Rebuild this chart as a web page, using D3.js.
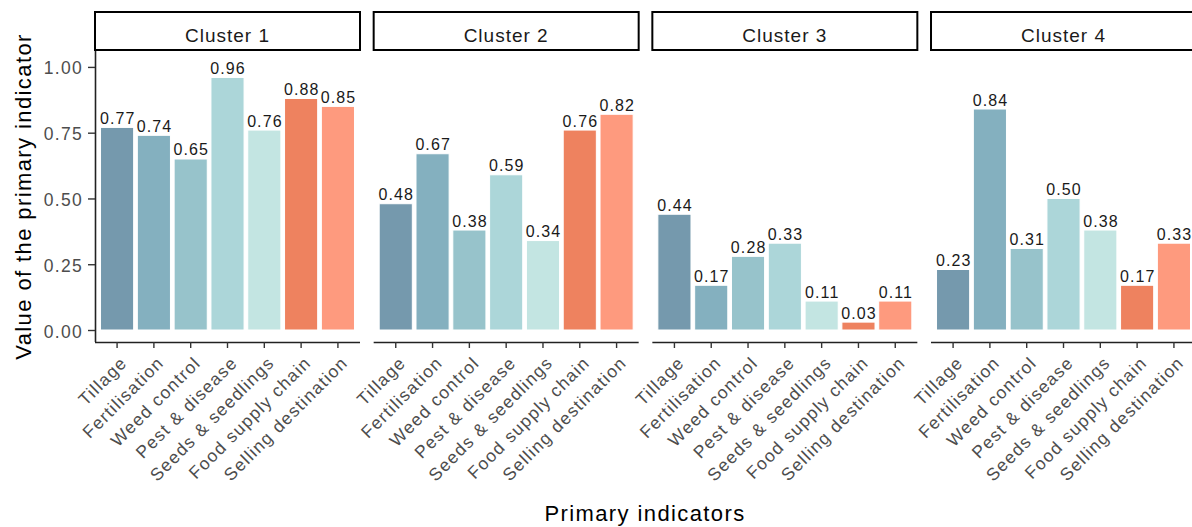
<!DOCTYPE html>
<html>
<head>
<meta charset="utf-8">
<script src="https://cdn.jsdelivr.net/npm/d3@7"></script>
<style>
  html, body { margin: 0; padding: 0; background: #fff; }
  svg { display: block; font-family: "Liberation Sans", Arial, sans-serif; }
</style>
</head>
<body>
<svg id="chart" width="1192" height="527"></svg>
<script>
// ---- data ----
const clusters = ["Cluster 1", "Cluster 2", "Cluster 3", "Cluster 4"];
const indicators = ["Tillage", "Fertilisation", "Weed control", "Pest & disease",
                    "Seeds & seedlings", "Food supply chain", "Selling destination"];
const cluster1 = [0.77, 0.74, 0.65, 0.96, 0.76, 0.88, 0.85];
const cluster2 = [0.48, 0.67, 0.38, 0.59, 0.34, 0.76, 0.82];
const cluster3 = [0.44, 0.17, 0.28, 0.33, 0.11, 0.03, 0.11];
const cluster4 = [0.23, 0.84, 0.31, 0.50, 0.38, 0.17, 0.33];
const yTicks = [0, 0.25, 0.5, 0.75, 1.0];
const colors = ["#7599ad", "#84b0bf", "#97c3cb", "#acd6d9", "#c3e5e2", "#ee825f", "#fe9a7e"];
const seriesByCluster = [cluster1, cluster2, cluster3, cluster4];

// ---- layout ----
const svg = d3.select("#chart");
const FONT = "Liberation Sans, Arial, sans-serif";
const panelX0 = 95, panelStep = 278.67, panelW = 265;
const stripTop = 12, stripBottom = 50;
const panelTop = 51, panelBottom = 342;

const y = d3.scaleLinear().domain([-0.0456, 1.0605]).range([panelBottom, panelTop]);
const color = d3.scaleOrdinal().domain(indicators).range(colors);

clusters.forEach((cl, i) => {
  const x0 = panelX0 + i * panelStep;
  const x = d3.scaleBand().domain(indicators).range([x0, x0 + panelW])
              .paddingInner(0.1).paddingOuter(0.15);
  const vals = seriesByCluster[i];
  const g = svg.append("g");

  // strip
  g.append("rect")
    .attr("x", x0).attr("y", stripTop)
    .attr("width", panelW).attr("height", stripBottom - stripTop)
    .attr("fill", "#fff").attr("stroke", "#000").attr("stroke-width", 2);
  g.append("text")
    .attr("x", x0 + panelW / 2).attr("y", 42)
    .attr("text-anchor", "middle")
    .attr("font-size", 19).attr("letter-spacing", 1.0)
    .attr("fill", "#1a1a1a")
    .text(cl);

  // bars
  g.selectAll("rect.bar").data(indicators).enter().append("rect")
    .attr("class", "bar")
    .attr("x", d => x(d))
    .attr("width", x.bandwidth())
    .attr("y", (d, j) => y(vals[j]))
    .attr("height", (d, j) => y(0) - y(vals[j]))
    .attr("fill", d => color(d))
    .attr("stroke", "#fff").attr("stroke-width", 1);

  // value labels
  g.selectAll("text.val").data(indicators).enter().append("text")
    .attr("class", "val")
    .attr("x", d => x(d) + x.bandwidth() / 2 + 0.6)
    .attr("y", (d, j) => y(vals[j]) - 3.5)
    .attr("text-anchor", "middle")
    .attr("font-size", 16).attr("letter-spacing", 1.1)
    .attr("fill", "#1a1a1a")
    .text((d, j) => d3.format(".2f")(vals[j]));

  // x axis
  const xAxis = d3.axisBottom(x).tickSize(6).tickSizeOuter(0).tickFormat("");
  const ax = g.append("g").attr("transform", `translate(0,${panelBottom})`).call(xAxis);
  ax.select(".domain").attr("stroke", "#222").attr("stroke-width", 1.6)
    .attr("d", `M${x0},0.5H${x0 + panelW}`);
  ax.selectAll(".tick line").attr("stroke", "#333").attr("stroke-width", 1.4);

  g.selectAll("text.xl").data(indicators).enter().append("text")
    .attr("class", "xl")
    .attr("transform", d => `translate(${x(d) + x.bandwidth() / 2 + 11},${panelBottom + 22}) rotate(-45)`)
    .attr("text-anchor", "end")
    .attr("font-size", 17.5).attr("letter-spacing", 1.3)
    .attr("fill", "#4d4d4d")
    .text(d => d);

  // y axis only on first panel
  if (i === 0) {
    const yAxis = d3.axisLeft(y).tickValues(yTicks).tickSize(7).tickSizeOuter(0)
      .tickFormat(d3.format(".2f"));
    const ay = g.append("g").attr("transform", `translate(${x0},0)`).call(yAxis);
    ay.select(".domain").attr("stroke", "#222").attr("stroke-width", 1.6)
      .attr("d", `M0.5,${panelTop}V${panelBottom}`);
    ay.selectAll(".tick line").attr("stroke", "#333").attr("stroke-width", 1.4);
    ay.selectAll(".tick text")
      .attr("font-size", 17.5).attr("letter-spacing", 1.3)
      .attr("fill", "#4d4d4d").attr("x", -12).attr("dy", "0.4em")
      .attr("font-family", FONT);
  }
});

// axis titles
svg.append("text")
  .attr("x", 645).attr("y", 521)
  .attr("text-anchor", "middle")
  .attr("font-size", 22).attr("letter-spacing", 1.4)
  .attr("fill", "#000")
  .text("Primary indicators");

svg.append("text")
  .attr("transform", `translate(31,${(panelTop + panelBottom) / 2}) rotate(-90)`)
  .attr("text-anchor", "middle")
  .attr("font-size", 22).attr("letter-spacing", 1.4)
  .attr("fill", "#000")
  .text("Value of the primary indicator");
</script>
</body>
</html>
